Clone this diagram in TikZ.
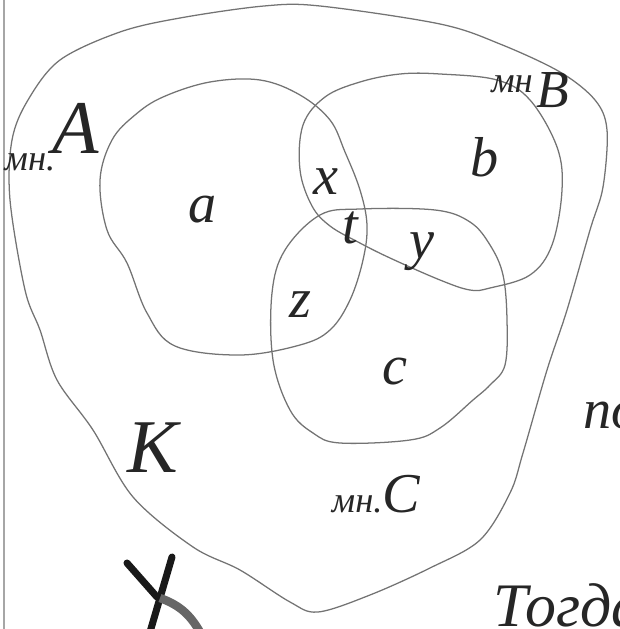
\documentclass[tikz,border=0pt]{standalone}
\usepackage{fontspec}
\setmainfont{Liberation Serif}
\usepackage{tikz}
\usetikzlibrary{positioning}

\begin{document}
\begin{tikzpicture}[
  x=0.025cm, y=-0.025cm,
  setline/.style={draw=black!55, line width=0.9pt, line join=round},
  reglbl/.style={font=\fontsize{40}{40}\selectfont\itshape, text=black!85, inner sep=0pt},
  caplbl/.style={font=\fontsize{54}{54}\selectfont\itshape, text=black!85, inner sep=0pt},
  setlbl/.style={font=\fontsize{26}{26}\selectfont\itshape, text=black!85, inner sep=0pt},
  edgetxt/.style={font=\fontsize{40}{40}\selectfont\itshape, text=black!85, inner sep=0pt}
]
  \useasboundingbox (0,0) rectangle (619,629);
  % page edge
  \draw[black!35, line width=0.8pt] (4,0) -- (4,629);

  % universal set K
  \draw[setline] plot[smooth cycle, tension=0.55] coordinates {
    (264,6) (320,6) (440,24) (500,44) (560,72) (595,100) (607,130)
    (603,187) (590,230) (567,310) (547,370) (523,453) (510,493)
    (480,540) (430,568) (370,595) (318,612) (290,602) (240,570)
    (193,547) (133,497) (93,430) (57,380) (40,330) (25,290) (10,200)
    (12,140) (28,100) (60,60) (120,32) (180,18)};

  % set A
  \draw[setline] plot[smooth cycle, tension=0.6] coordinates {
    (100,180) (112,140) (135,115) (163,97) (210,82) (260,80) (300,95)
    (330,120) (345,152) (360,190) (367,225) (363,260) (350,300)
    (330,330) (300,345) (240,355) (175,346) (147,313) (127,263) (107,230)};

  % set B
  \draw[setline] plot[smooth cycle, tension=0.6] coordinates {
    (300,170) (303,125) (325,97) (360,82) (400,74) (440,74) (497,80)
    (530,100) (557,147) (562,190) (552,245) (530,275) (490,288)
    (470,290) (440,280) (390,258) (358,242) (330,226) (312,206)};

  % set C
  \draw[setline] plot[smooth cycle, tension=0.6] coordinates {
    (272,293) (285,250) (320,215) (360,209) (435,210) (470,222)
    (490,245) (503,275) (507,320) (505,365) (490,385) (473,400)
    (440,428) (410,440) (340,443) (313,433) (290,410) (273,360)};

  % set names
  \node[setlbl] (mnA) at (30,162) {мн.};
  \node[caplbl] (capA) at (76,128) {A};
  \node[setlbl] (mnB) at (512,84) {мн};
  \node[setlbl, font=\fontsize{38}{38}\selectfont\itshape, right=2pt of mnB, yshift=-4pt] (capB) {B};
  \node[setlbl] (mnC) at (376,494) {мн.\fontsize{40}{40}\selectfont C};

  % regions
  \node[reglbl] (ra) at (203,210) {a};
  \node[reglbl] (rb) at (485,157) {b};
  \node[reglbl] (rc) at (395,372) {c};
  \node[reglbl] (rx) at (326,182) {x};
  \node[reglbl] (ry) at (422,252) {y};
  \node[reglbl] (rz) at (300,305) {z};
  \node[reglbl] (rt) at (350,228) {t};
  \node[caplbl] (rk) at (153,448) {K};

  % cut-off writing at the page edges
  \node[edgetxt, anchor=base west] (po) at (583,428) {по};
  \node[edgetxt, font=\fontsize{44}{44}\selectfont\itshape, anchor=base west] (togda) at (493,626) {Тогда};

  % cross mark at the bottom
  \draw[black!90, line width=5pt, line cap=round] (127,563) -- (157,597);
  \draw[black!90, line width=5pt, line cap=round] (172,557) -- (150,632);
  \draw[black!60, line width=6pt] (160,598) to[out=-20, in=120] (200,632);
\end{tikzpicture}
\end{document}
